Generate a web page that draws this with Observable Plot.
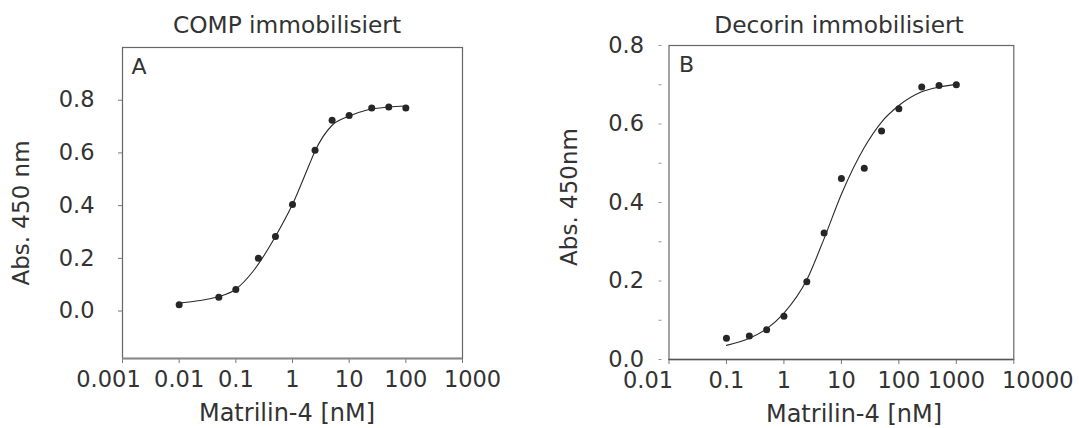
<!DOCTYPE html>
<html>
<head>
<meta charset="utf-8">
<script src="https://cdn.jsdelivr.net/npm/d3@7"></script>
<script src="https://cdn.jsdelivr.net/npm/@observablehq/plot@0.6"></script>
<style>
  html, body { margin: 0; padding: 0; background: #fff; }
  #wrap { position: relative; width: 1079px; height: 428px; overflow: hidden; font-family: "DejaVu Sans", sans-serif; color: #333; }
  .panel { position: absolute; top: 0; }
  .t { position: absolute; white-space: nowrap; font-family: "DejaVu Sans", sans-serif; color: #333; line-height: 1; }
</style>
</head>
<body>
<div id="wrap"></div>
<script>
// ---------- data ----------
// Panel A: COMP immobilisiert
const concA = [0.01, 0.05, 0.1, 0.25, 0.5, 1, 2.5, 5, 10, 25, 50, 100];
const absA  = [0.024, 0.052, 0.082, 0.200, 0.283, 0.404, 0.610, 0.724, 0.742, 0.770, 0.774, 0.770];
// fitted curve
const fitConcA = [0.01, 0.02, 0.05, 0.1, 0.2, 0.5, 1, 2, 2.5, 5, 10, 20, 50, 100];
const fitAbsA  = [0.030, 0.038, 0.055, 0.083, 0.150, 0.283, 0.405, 0.558, 0.607, 0.705, 0.740, 0.762, 0.774, 0.778];

// Panel B: Decorin immobilisiert
const concB = [0.1, 0.25, 0.5, 1, 2.5, 5, 10, 25, 50, 100, 250, 500, 1000];
const absB  = [0.054, 0.060, 0.076, 0.110, 0.198, 0.322, 0.461, 0.487, 0.582, 0.639, 0.694, 0.698, 0.700];
// fitted curve
const fitConcB = [0.1, 0.25, 0.5, 1, 2.5, 5, 10, 25, 50, 100, 250, 500, 1000];
const fitAbsB  = [0.036, 0.054, 0.078, 0.118, 0.203, 0.308, 0.421, 0.540, 0.605, 0.647, 0.682, 0.694, 0.701];

// ticks
const xTicksA = [0.001, 0.01, 0.1, 1, 10, 100, 1000];
const xTickLabelsA = ["0.001", "0.01", "0.1", "1", "10", "100", "1000"];
const yTicksA = [0, 0.2, 0.4, 0.6, 0.8];
const yTickLabelsA = ["0.0", "0.2", "0.4", "0.6", "0.8"];

const xTicksB = [0.01, 0.1, 1, 10, 100, 1000, 10000];
const xTickLabelsB = ["0.01", "0.1", "1", "10", "100", "1000", "10000"];
const yTicksB = [0, 0.2, 0.4, 0.6, 0.8];
const yTickLabelsB = ["0.0", "0.2", "0.4", "0.6", "0.8"];
const yMinorTicksB = [0, 0.1, 0.2, 0.3, 0.4, 0.5, 0.6, 0.7, 0.8];

const titles = ["COMP immobilisiert", "Decorin immobilisiert"];
const panelLetters = ["A", "B"];
const xTitle = "Matrilin-4 [nM]";
const yTitles = ["Abs. 450 nm", "Abs. 450nm"];

// ---------- build ----------
const pointsA = concA.map((c, i) => ({c, a: absA[i]}));
const curveA = fitConcA.map((c, i) => ({c, a: fitAbsA[i]}));
const pointsB = concB.map((c, i) => ({c, a: absB[i]}));
const curveB = fitConcB.map((c, i) => ({c, a: fitAbsB[i]}));

const ink = "#333";
const dotInk = "#262626";
const tickFont = 22.5;
const fontStyle = {fontFamily: "DejaVu Sans, sans-serif", fontSize: tickFont + "px", color: ink, background: "transparent", overflow: "visible"};

const fmt = (ticks, labels) => d => labels[ticks.indexOf(d)];

// x axis: tick marks + labels (end labels nudged outward as in the original)
function xAxisMarks(ticks, labels, firstDx, lastDx) {
  const f = fmt(ticks, labels);
  const n = ticks.length;
  return [
    Plot.axisX({ticks, tickFormat: () => "", tickSize: 5, label: null, stroke: "#777"}),
    Plot.axisX({ticks: ticks.slice(1, n - 1), tickFormat: f, tickSize: 0, tickPadding: 13, label: null, fontSize: tickFont, fill: ink}),
    Plot.axisX({ticks: [ticks[0]], tickFormat: f, tickSize: 0, tickPadding: 13, label: null, dx: firstDx, fontSize: tickFont, fill: ink}),
    Plot.axisX({ticks: [ticks[n - 1]], tickFormat: f, tickSize: 0, tickPadding: 13, label: null, dx: lastDx, fontSize: tickFont, fill: ink})
  ];
}

const plotA = Plot.plot({
  width: 540, height: 428,
  marginLeft: 122, marginRight: 78, marginTop: 47, marginBottom: 70,
  style: fontStyle,
  x: {type: "log", domain: [0.001, 1000]},
  y: {domain: [-0.18, 1.0]},
  marks: [
    Plot.frame({stroke: "#666", strokeWidth: 1.2}),
    ...xAxisMarks(xTicksA, xTickLabelsA, -14, 10),
    Plot.axisY({ticks: yTicksA, tickFormat: fmt(yTicksA, yTickLabelsA), tickSize: 4, tickPadding: 24, label: null, stroke: "#777", fontSize: tickFont, fill: ink}),
    Plot.ruleY([-0.18], {stroke: "#888", strokeWidth: 2}),
    Plot.line(curveA, {x: "c", y: "a", curve: "monotone-x", stroke: "#2a2a2a", strokeWidth: 1.1}),
    Plot.dot(pointsA, {x: "c", y: "a", r: 3.5, fill: dotInk, stroke: "none"}),
    Plot.text([panelLetters[0]], {frameAnchor: "top-left", dx: 9, dy: 11, fontSize: 22, fill: ink, lineAnchor: "top"})
  ]
});

const plotB = Plot.plot({
  width: 539, height: 428,
  marginLeft: 128.5, marginRight: 65.7, marginTop: 45, marginBottom: 69,
  style: fontStyle,
  x: {type: "log", domain: [0.01, 10000]},
  y: {domain: [0, 0.8]},
  marks: [
    Plot.frame({stroke: "#666", strokeWidth: 1.2}),
    ...xAxisMarks(xTicksB, xTickLabelsB, -21, 24),
    Plot.axisY({ticks: yMinorTicksB, tickFormat: () => "", tickSize: 3, dx: -7, label: null, stroke: "#999"}),
    Plot.axisY({ticks: yTicksB, tickFormat: fmt(yTicksB, yTickLabelsB), tickSize: 0, tickPadding: 25, label: null, fontSize: tickFont, fill: ink}),
    Plot.ruleY([0], {stroke: "#555", strokeWidth: 1.6}),
    Plot.line(curveB, {x: "c", y: "a", curve: "monotone-x", stroke: "#2a2a2a", strokeWidth: 1.1}),
    Plot.dot(pointsB, {x: "c", y: "a", r: 3.5, fill: dotInk, stroke: "none"}),
    Plot.text([panelLetters[1]], {frameAnchor: "top-left", dx: 10, dy: 11, fontSize: 22, fill: ink, lineAnchor: "top"})
  ]
});

const wrap = document.getElementById("wrap");
plotA.classList.add("panel"); plotA.style.left = "0px";
plotB.classList.add("panel"); plotB.style.left = "540px";
wrap.appendChild(plotA);
wrap.appendChild(plotB);

function addText(txt, x, y, size, opts = {}) {
  const d = document.createElement("div");
  d.className = "t";
  d.textContent = txt;
  d.style.fontSize = size + "px";
  d.style.left = x + "px";
  d.style.top = y + "px";
  d.style.transform = opts.rotate ? "translate(-50%, -50%) rotate(-90deg)" : "translate(-50%, 0)";
  wrap.appendChild(d);
}
// titles
addText(titles[0], 287, 13, 23.3);
addText(titles[1], 839, 13, 23.3);
// x-axis titles
addText(xTitle, 287, 401, 24);
addText(xTitle, 854, 402, 24);
// y-axis titles
addText(yTitles[0], 21, 213, 23, {rotate: true});
addText(yTitles[1], 569, 197, 23, {rotate: true});
</script>
</body>
</html>
